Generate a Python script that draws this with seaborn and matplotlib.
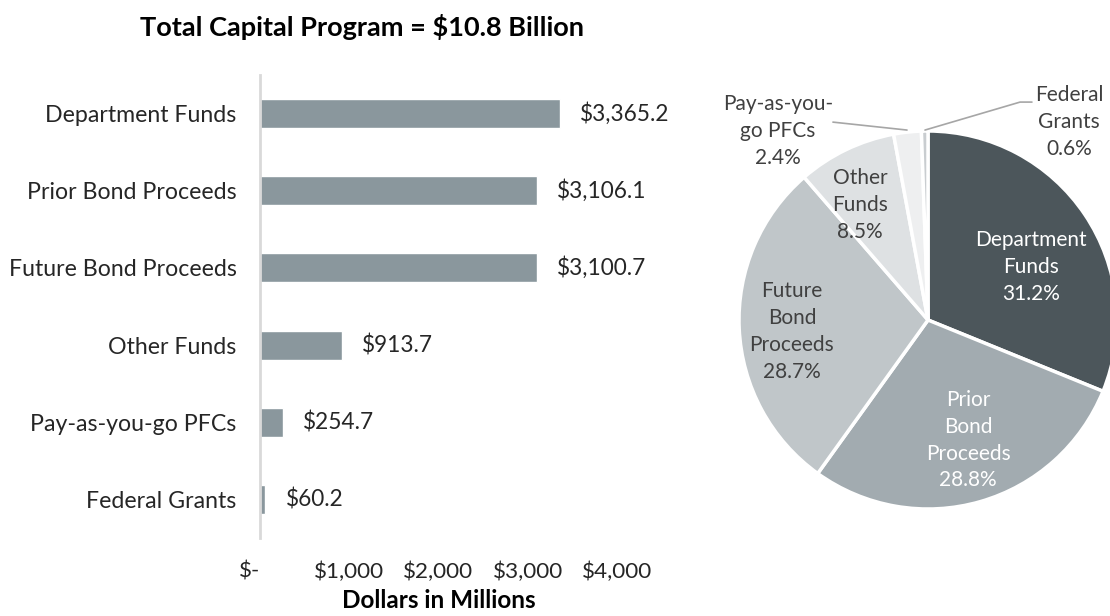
import matplotlib
matplotlib.use("Agg")
import matplotlib.pyplot as plt
import seaborn as sns
import pandas as pd
from matplotlib.ticker import FuncFormatter

categories = ["Department Funds", "Prior Bond Proceeds", "Future Bond Proceeds",
              "Other Funds", "Pay-as-you-go PFCs", "Federal Grants"]
values = [3365.2, 3106.1, 3100.7, 913.7, 254.7, 60.2]
pie_labels = ["Department\nFunds", "Prior\nBond\nProceeds", "Future\nBond\nProceeds",
              "Other\nFunds", "Pay-as-you-\ngo PFCs", "Federal\nGrants"]
x_ticks = [0, 1000, 2000, 3000, 4000]
title = "Total Capital Program = $10.8 Billion"
x_title = "Dollars in Millions"

sns.set_theme(style="white")
plt.rcParams["font.family"] = ["Lato", "DejaVu Sans"]

TXT = "#262626"

fig = plt.figure(figsize=(11.1, 6.16), dpi=100)

# ---- bar chart ----
W, H = 1110, 616
ax = fig.add_axes([260 / W, 1 - 538 / H, 357 / W, 463 / H])
df = pd.DataFrame({"cat": categories, "val": values})
sns.barplot(data=df, y="cat", x="val", ax=ax, color="#8A979D", width=0.375,
            saturation=1, orient="h")
ax.set_xlim(0, 4000)
ax.set_ylim(5.5, -0.5)
ax.set_xticks(x_ticks)
ax.xaxis.set_major_formatter(FuncFormatter(lambda v, p: "$-" if v == 0 else f"${v:,.0f}"))
ax.tick_params(axis="x", length=0, pad=17, labelsize=16.2, labelcolor=TXT)
ax.tick_params(axis="y", length=0, pad=17, labelsize=16.7, labelcolor=TXT)
fig.canvas.draw()
ax.get_xticklabels()[0].set_horizontalalignment("right")
ax.set_ylabel("")
ax.set_xlabel(x_title, fontsize=17.5, fontweight="bold", color="black", labelpad=5)
for s in ["top", "right", "bottom"]:
    ax.spines[s].set_visible(False)
ax.spines["left"].set_color("#D9D9D9")
ax.spines["left"].set_linewidth(2)
for i, v in enumerate(values):
    ax.text(v + 225, i, f"${v:,.1f}", va="center", ha="left", fontsize=16.3, color=TXT)

fig.text(362 / W, 1 - 27 / H, title, ha="center", va="center", fontsize=19.5,
         fontweight="bold", color="black")

# ---- pie chart ----
pax = fig.add_axes([739 / W, 1 - 509 / H, 378 / W, 378 / H])
pie_colors = ["#4C565B", "#A2ABB0", "#C0C6C9", "#DEE1E3", "#EEEFF0", "#C9CDD0"]
total = sum(values)
pax.pie(values, colors=pie_colors, startangle=90, counterclock=False, radius=1,
        wedgeprops=dict(edgecolor="white", linewidth=2.5))
pax.set_xlim(-1, 1)
pax.set_ylim(-1, 1)
pax.set_aspect("equal")
pax.axis("off")

label_pos = [(0.545, 0.28), (0.212, -0.637), (-0.72, -0.061), (-0.36, 0.608),
             (-0.794, 1.0), (0.746, 1.048)]
label_col = ["white", "white", "#404040", "#404040", "#404040", "#404040"]
for lab, v, (lx, ly), c in zip(pie_labels, values, label_pos, label_col):
    pax.text(lx, ly, f"{lab}\n{v / total * 100:.1f}%", ha="center", va="center",
             fontsize=15, color=c, linespacing=1.42, clip_on=False)

pax.plot([-0.503, -0.111], [1.047, 1.005], color="#A6A6A6", lw=1.2, clip_on=False)
pax.plot([-0.016, 0.487, 0.55], [1.005, 1.153, 1.153], color="#A6A6A6", lw=1.2, clip_on=False)

fig.savefig("out.png", dpi=100)
